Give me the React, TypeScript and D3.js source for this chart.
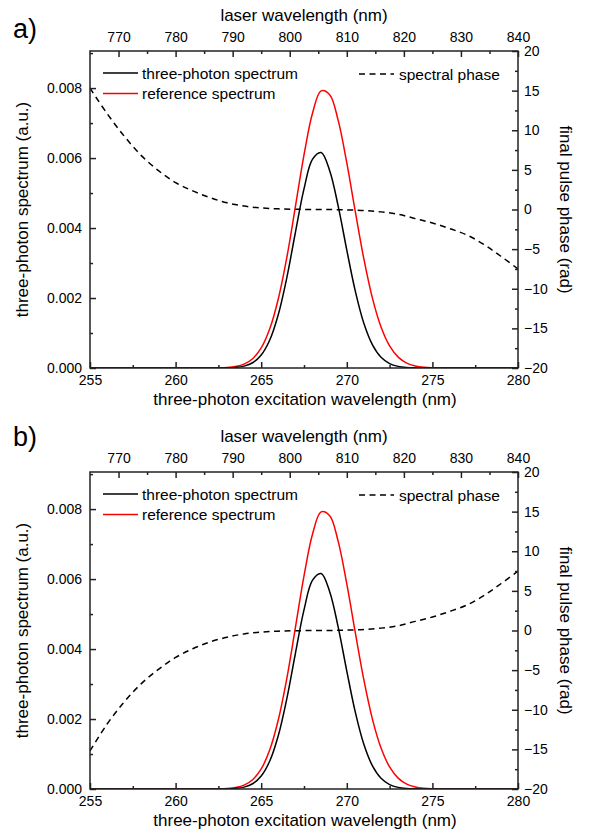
import * as d3 from "d3";
import { useEffect, useRef } from "react";

// excitation wavelength samples (nm) for both spectra
const specX = [255, 262, 262.5, 263, 263.5, 264, 264.5, 265, 265.5, 266, 266.5, 267, 267.5, 268, 268.5,
    269, 269.5, 270, 270.5, 271, 271.5, 272, 272.5, 273, 273.5, 274, 274.5, 275, 275.5, 276, 280];

const threePhoton = [0, 0.0000003, 0.000001, 0.0000048, 0.000017, 0.000054, 0.00015, 0.00037, 0.0008,
    0.00153, 0.00259, 0.00388, 0.00512, 0.00597, 0.00616, 0.00564, 0.00462, 0.00337, 0.00219, 0.00127,
    0.00066, 0.000305, 0.000126, 0.000046, 0.000015, 0.000005, 0.0000015, 0, 0, 0, 0];

const referenceSpec = [0, 0.0000013, 0.000005, 0.000015, 0.000043, 0.000112, 0.000266, 0.000573, 0.00112,
    0.00198, 0.00317, 0.00462, 0.00609, 0.00729, 0.00792, 0.00781, 0.00707, 0.00586, 0.00446, 0.00311,
    0.00199, 0.00117, 0.00063, 0.00031, 0.00014, 0.000058, 0.000022, 0.000008, 0.000003, 0.000001, 0];

// spectral phase samples (rad)
const phaseX = [255, 256, 257, 258, 259, 260, 261, 262, 263, 264, 265, 266, 267, 268, 269, 270,
    271, 272, 273, 274, 275, 276, 277, 278, 279, 280];

const phaseA = [15.3, 12.1, 9.25, 6.8, 4.9, 3.4, 2.35, 1.5, 0.85, 0.43, 0.2, 0.08, 0.03, 0, -0.01,
    -0.05, -0.13, -0.3, -0.6, -1.15, -1.7, -2.4, -3.2, -4.4, -5.9, -7.5];

const phaseB = [-15.2, -11.8, -9.0, -6.7, -4.9, -3.4, -2.3, -1.45, -0.85, -0.43, -0.2, -0.08, -0.03,
    0, 0.01, 0.05, 0.13, 0.3, 0.6, 1.15, 1.7, 2.4, 3.2, 4.4, 5.9, 7.5];

// ticks
const bottomMajor = [255, 260, 265, 270, 275, 280];
const bottomMinor = [257.5, 262.5, 267.5, 272.5, 277.5];
const topMajor = [770, 780, 790, 800, 810, 820, 830, 840];
const topMinor = [775, 785, 795, 805, 815, 825, 835];
const leftMajor = [0, 0.002, 0.004, 0.006, 0.008];
const leftMinor = [0.001, 0.003, 0.005, 0.007, 0.009];
const rightMajor = [-20, -15, -10, -5, 0, 5, 10, 15, 20];
const rightMinor = [-17.5, -12.5, -7.5, -2.5, 2.5, 7.5, 12.5, 17.5];

const legendNames = ["three-photon spectrum", "reference spectrum", "spectral phase"];

const FONT = "'Liberation Sans', Arial, sans-serif";
const AXIS = "#222";

const App = () => {
    const ref = useRef<SVGSVGElement>(null);

    useEffect(() => {
        const svg = d3.select(ref.current);
        svg.selectAll("*").remove();
        drawPanel(svg, 51, "a)", 37.5, phaseA, "clipA");
        drawPanel(svg, 472, "b)", 446, phaseB, "clipB");
    });

    return (
        <svg ref={ref} width="589" height="830"
            style={{ position: "absolute", left: 0, top: 0, background: "white" }} />
    );
};

const drawPanel = (svg, top, label, labelY, phase, clipId) => {
    const left = 90, width = 428, height = 317;

    const x = d3.scaleLinear().domain([255, 280]).range([0, width]);
    const xTop = d3.scaleLinear().domain([765, 840]).range([0, width]);
    const yL = d3.scaleLinear().domain([0, 0.00906]).range([height, 0]);
    const yR = d3.scaleLinear().domain([-20, 20]).range([height, 0]);

    const g = svg.append("g").attr("transform", "translate(" + left + "," + top + ")");

    g.append("clipPath").attr("id", clipId)
        .append("rect").attr("width", width).attr("height", height);

    const plot = g.append("g").attr("clip-path", "url(#" + clipId + ")");

    const specLine = d3.line()
        .x(d => x(d[0]))
        .y(d => yL(d[1]))
        .curve(d3.curveCatmullRom);

    const phaseLine = d3.line()
        .x(d => x(d[0]))
        .y(d => yR(d[1]))
        .curve(d3.curveCatmullRom);

    plot.append("path")
        .attr("d", phaseLine(phaseX.map((v, i) => [v, phase[i]])))
        .attr("fill", "none")
        .attr("stroke", "#000")
        .attr("stroke-width", 1.5)
        .attr("stroke-dasharray", "6,4.5");

    plot.append("path")
        .attr("d", specLine(specX.map((v, i) => [v, referenceSpec[i]])))
        .attr("fill", "none")
        .attr("stroke", "#ff0000")
        .attr("stroke-width", 1.5);

    plot.append("path")
        .attr("d", specLine(specX.map((v, i) => [v, threePhoton[i]])))
        .attr("fill", "none")
        .attr("stroke", "#000")
        .attr("stroke-width", 1.5);

    // axes, ticks point inward
    const axes = [
        { ax: d3.axisBottom(x).tickValues(bottomMajor).tickSize(-6).tickPadding(7), t: "translate(0," + height + ")" },
        { ax: d3.axisBottom(x).tickValues(bottomMinor).tickSize(-3).tickFormat(() => ""), t: "translate(0," + height + ")" },
        { ax: d3.axisTop(xTop).tickValues(topMajor).tickSize(-6).tickPadding(9), t: "" },
        { ax: d3.axisTop(xTop).tickValues(topMinor).tickSize(-3).tickFormat(() => ""), t: "" },
        { ax: d3.axisLeft(yL).tickValues(leftMajor).tickSize(-6).tickPadding(8).tickFormat(d3.format(".3f")), t: "" },
        { ax: d3.axisLeft(yL).tickValues(leftMinor).tickSize(-3).tickFormat(() => ""), t: "" },
        { ax: d3.axisRight(yR).tickValues(rightMajor).tickSize(-6).tickPadding(6), t: "translate(" + width + ",0)" },
        { ax: d3.axisRight(yR).tickValues(rightMinor).tickSize(-3).tickFormat(() => ""), t: "translate(" + width + ",0)" },
    ];

    axes.forEach(a => {
        const ag = g.append("g").attr("transform", a.t).call(a.ax);
        ag.select(".domain").remove();
        ag.selectAll("line").attr("stroke", AXIS).attr("stroke-width", 1.5);
        ag.selectAll("text")
            .attr("fill", "#000")
            .style("font-family", FONT)
            .style("font-size", "14px");
    });

    g.append("rect")
        .attr("width", width)
        .attr("height", height)
        .attr("fill", "none")
        .attr("stroke", AXIS)
        .attr("stroke-width", 1.5);

    // legend
    const legend = g.append("g").style("font-family", FONT).style("font-size", "15.5px");
    const rows = [
        { x1: 13, y: 22, color: "#000", dash: null, tx: 52, name: legendNames[0] },
        { x1: 13, y: 42.5, color: "#ff0000", dash: null, tx: 52, name: legendNames[1] },
        { x1: 269, y: 23, color: "#000", dash: "6,4.5", tx: 309, name: legendNames[2] },
    ];
    rows.forEach(r => {
        legend.append("line")
            .attr("x1", r.x1).attr("x2", r.x1 + 35)
            .attr("y1", r.y).attr("y2", r.y)
            .attr("stroke", r.color)
            .attr("stroke-width", 1.5)
            .attr("stroke-dasharray", r.dash);
        legend.append("text")
            .attr("x", r.tx).attr("y", r.y + 5.5)
            .text(r.name);
    });

    // axis titles
    g.append("text")
        .attr("x", width / 2 + 1).attr("y", height + 37)
        .attr("text-anchor", "middle")
        .style("font-family", FONT).style("font-size", "17px")
        .text("three-photon excitation wavelength (nm)");

    g.append("text")
        .attr("x", width / 2).attr("y", -30)
        .attr("text-anchor", "middle")
        .style("font-family", FONT).style("font-size", "17px")
        .text("laser wavelength (nm)");

    g.append("text")
        .attr("transform", "translate(-62," + height / 2 + ") rotate(-90)")
        .attr("text-anchor", "middle")
        .style("font-family", FONT).style("font-size", "17px")
        .text("three-photon spectrum (a.u.)");

    g.append("text")
        .attr("transform", "translate(" + (width + 42) + "," + height / 2 + ") rotate(90)")
        .attr("text-anchor", "middle")
        .style("font-family", FONT).style("font-size", "17px")
        .text("final pulse phase (rad)");

    svg.append("text")
        .attr("x", 13).attr("y", labelY)
        .style("font-family", FONT).style("font-size", "27px")
        .text(label);
};

export default App;
